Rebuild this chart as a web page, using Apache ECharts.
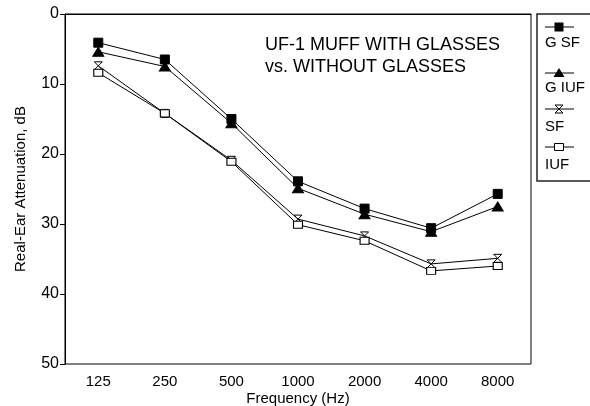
<!DOCTYPE html>
<html>
<head>
<meta charset="utf-8">
<script src="https://cdn.jsdelivr.net/npm/echarts@6/dist/echarts.min.js"></script>
<style>html,body{margin:0;padding:0;background:#fff;}#c{width:590px;height:406px;}</style>
</head>
<body>
<div id="c"></div>
<script>
const categories = ['125', '250', '500', '1000', '2000', '4000', '8000'];
const gSF  = [4.1, 6.5, 15.0, 23.9, 27.8, 30.6, 25.7];
const gIUF = [5.4, 7.5, 15.6, 24.9, 28.6, 31.1, 27.5];
const sf   = [7.4, 14.2, 20.9, 29.3, 31.7, 35.7, 34.9];
const iuf  = [8.4, 14.2, 21.1, 30.1, 32.4, 36.7, 36.0];
const seriesNames = ['G SF', 'G IUF', 'SF', 'IUF'];
const titleText = 'UF-1 MUFF WITH GLASSES\nvs. WITHOUT GLASSES';

const FONT = 'Liberation Sans, Arial, sans-serif';
const HOURGLASS = 'path://M0,0L10,0L0,10L10,10Z';

const chart = echarts.init(document.getElementById('c'), null, {renderer: 'canvas'});

function mkSeries(name, data, symbol, size, fill) {
  return {
    name: name, type: 'line', data: data,
    symbol: symbol, symbolSize: size, showSymbol: true,
    lineStyle: {color: '#000', width: 1},
    itemStyle: {color: fill, borderColor: '#000', borderWidth: 1},
    emphasis: {disabled: true},
    animation: false
  };
}

// legend drawn as graphics (text below the sample line)
const legendY = [27, 73, 109, 147];
const textY = [43, 88, 127, 165];
const legendGraphics = [
  {type: 'rect', shape: {x: 537, y: 14, width: 70, height: 167}, style: {fill: '#fff', stroke: '#222', lineWidth: 1.5}}
];
function markerShape(i, cx, cy) {
  if (i === 0) return {type: 'rect', shape: {x: cx - 4.5, y: cy - 4.5, width: 9, height: 9}, style: {fill: '#000'}};
  if (i === 1) return {type: 'polygon', shape: {points: [[cx, cy - 5], [cx + 5.5, cy + 4], [cx - 5.5, cy + 4]]}, style: {fill: '#000'}};
  if (i === 2) return {type: 'polygon', shape: {points: [[cx - 4, cy - 4], [cx + 4, cy - 4], [cx - 4, cy + 4], [cx + 4, cy + 4]]}, style: {fill: '#fff', stroke: '#000', lineWidth: 1}};
  return {type: 'rect', shape: {x: cx - 4.5, y: cy - 3.5, width: 9, height: 7}, style: {fill: '#fff', stroke: '#000', lineWidth: 1}};
}
seriesNames.forEach(function (n, i) {
  legendGraphics.push({type: 'line', shape: {x1: 545, y1: legendY[i], x2: 574, y2: legendY[i]}, style: {stroke: '#000', lineWidth: 1}});
  legendGraphics.push(markerShape(i, 559, legendY[i]));
  legendGraphics.push({type: 'text', x: 545, y: textY[i], style: {text: n, font: '15px ' + FONT, fill: '#000', textVerticalAlign: 'middle', verticalAlign: 'middle'}});
});

chart.setOption({
  animation: false,
  backgroundColor: '#fff',
  title: {
    text: titleText, left: 260, top: 29,
    textStyle: {fontFamily: FONT, fontSize: 18, fontWeight: 'normal', color: '#000', lineHeight: 22}
  },
  grid: {left: 65, right: 59, top: 14, bottom: 42, outerBoundsMode: 'none', containLabel: false,
         show: true, borderColor: '#000', borderWidth: 1, backgroundColor: 'transparent'},
  xAxis: {
    type: 'category', data: categories, boundaryGap: true,
    name: 'Frequency (Hz)', nameLocation: 'middle', nameGap: 27, nameMoveOverlap: false,
    nameTextStyle: {fontFamily: FONT, fontSize: 15, color: '#000'},
    axisLine: {lineStyle: {color: '#000', width: 1}},
    axisTick: {alignWithLabel: true, length: 4, lineStyle: {color: '#000'}},
    axisLabel: {fontFamily: FONT, fontSize: 15, color: '#000', margin: 10},
    splitLine: {show: false}
  },
  yAxis: {
    type: 'value', inverse: true, min: 0, max: 50, interval: 10,
    name: 'Real-Ear Attenuation, dB', nameLocation: 'middle', nameRotate: 90, nameGap: 37, nameMoveOverlap: false,
    nameTextStyle: {fontFamily: FONT, fontSize: 15, color: '#000'},
    axisLine: {show: true, lineStyle: {color: '#000', width: 1}},
    axisTick: {show: true, length: 5, lineStyle: {color: '#000'}},
    axisLabel: {fontFamily: FONT, fontSize: 16, color: '#000', margin: 6},
    splitLine: {show: false}
  },
  series: [
    mkSeries(seriesNames[0], gSF, 'rect', 9, '#000'),
    mkSeries(seriesNames[1], gIUF, 'triangle', [11, 9], '#000'),
    mkSeries(seriesNames[2], sf, HOURGLASS, [8, 8], '#fff'),
    mkSeries(seriesNames[3], iuf, 'rect', [9, 7], '#fff')
  ],
  graphic: legendGraphics
});
</script>
</body>
</html>
